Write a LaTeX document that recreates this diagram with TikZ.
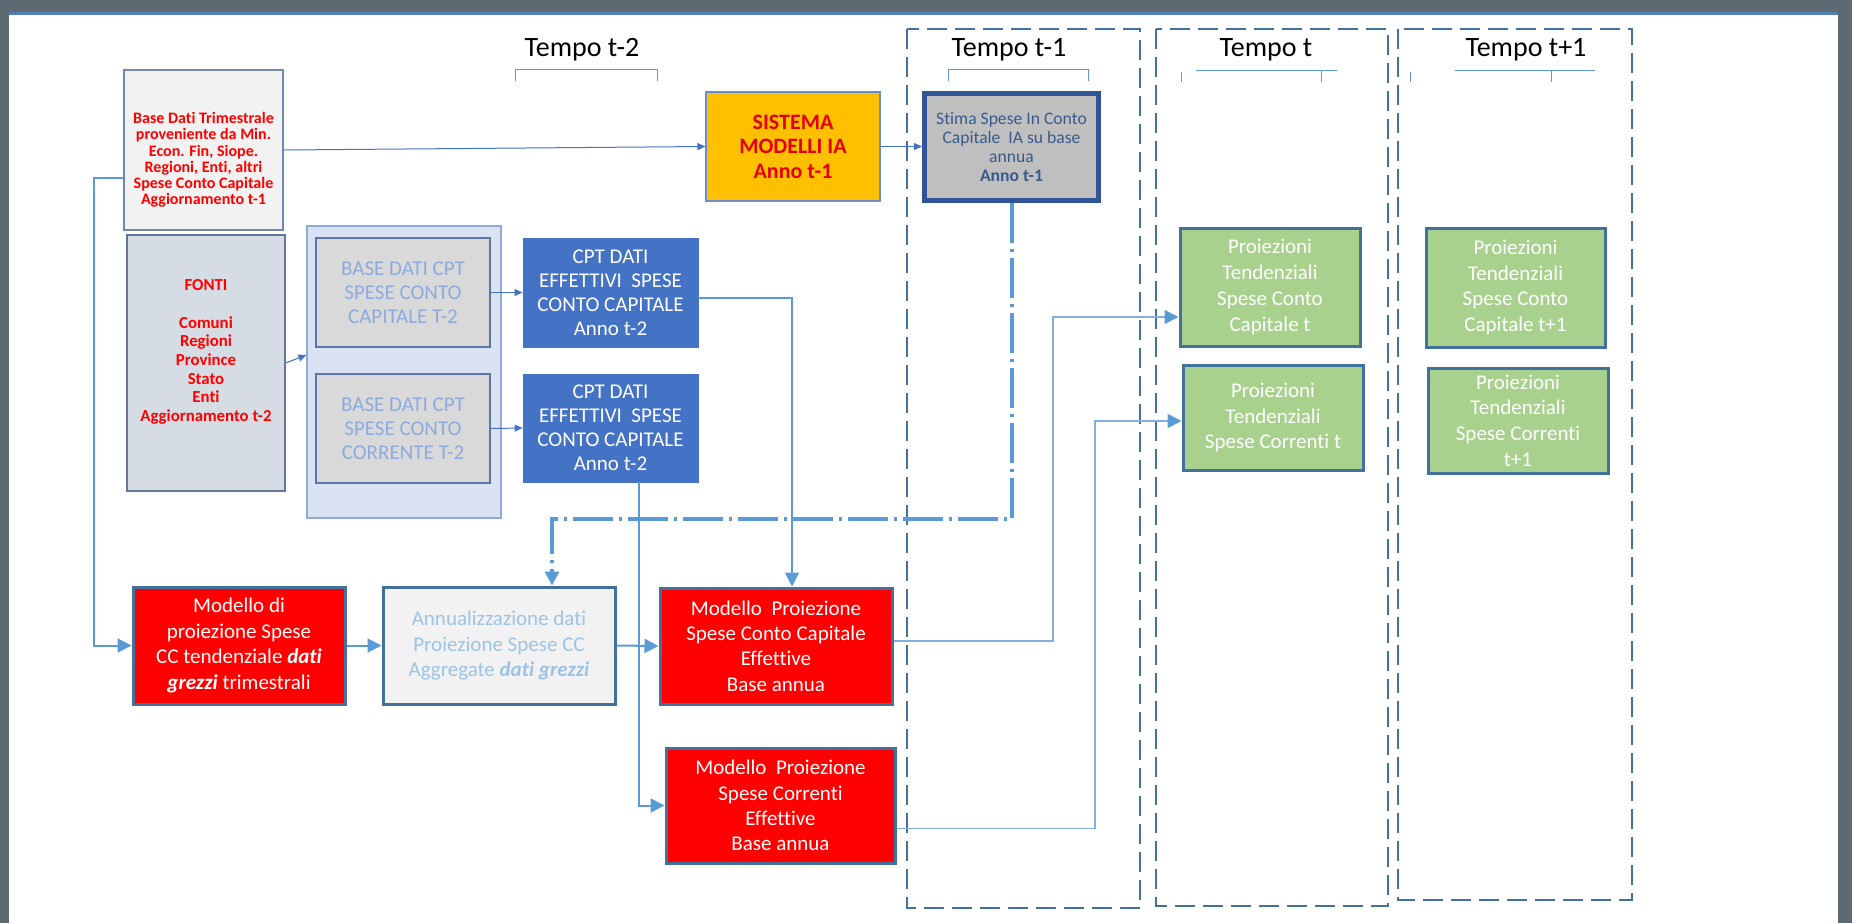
\documentclass[tikz,border=0pt]{standalone}
\usepackage{fontspec}
\setmainfont{Carlito}[Ligatures={NoCommon}]
\usetikzlibrary{arrows.meta,positioning}
\definecolor{framegrey}{HTML}{5E6A72}
\definecolor{frameblue}{HTML}{4F7FB5}
\definecolor{colblue}{HTML}{41719C}
\definecolor{arrowblue}{HTML}{5B9BD5}
\definecolor{lineblue}{HTML}{4472C4}
\definecolor{paleblue}{HTML}{8FAADC}
\definecolor{lightblue}{HTML}{9DC3E6}
\definecolor{feedblue}{HTML}{7FB0DE}
\definecolor{greenfill}{HTML}{A9D18E}
\definecolor{cptblue}{HTML}{4472C4}
\definecolor{orangefill}{HTML}{FFC000}
\definecolor{stimaline}{HTML}{2F5597}
\definecolor{stimatext}{HTML}{3A5A8C}
\definecolor{fontifill}{HTML}{D6DCE4}
\definecolor{cptbasefill}{HTML}{DAE3F3}

\tikzset{
  trimbox/.style={draw=paleblue!80!black, fill=black!5, line width=0.6pt},
  redlabel/.style={text=red, align=center, inner sep=0pt},
  fontibox/.style={draw=paleblue!70!black, fill=fontifill, line width=0.6pt},
  cptbasebox/.style={draw=paleblue, fill=cptbasefill, line width=0.6pt},
  basebox/.style={draw=stimaline!80!white, fill=black!15, line width=0.6pt, text=paleblue, align=center, inner sep=0pt,
    font=\fontsize{10.5}{12}\selectfont},
  cptbox/.style={draw=cptblue, fill=cptblue, text=white, align=center, inner sep=0pt,
    font=\fontsize{10.5}{12}\selectfont},
  sisbox/.style={draw=lineblue!80!white, fill=orangefill, line width=0.6pt, text=red!90!black, align=center, inner sep=0pt,
    font=\fontsize{11}{12.3}\selectfont\bfseries},
  stimabox/.style={draw=stimaline, fill=black!25, line width=2.5pt, text=stimatext, align=center, inner sep=0pt,
    font=\fontsize{8.8}{9.45}\selectfont},
  redbox/.style={draw=colblue, fill=red, line width=1.5pt, text=white, align=center, inner sep=0pt,
    font=\fontsize{10.5}{12.7}\selectfont},
  annbox/.style={draw=colblue, fill=black!5, line width=1.5pt, text=lightblue, align=center, inner sep=0pt,
    font=\fontsize{10.5}{12.7}\selectfont},
  greenbox/.style={draw=colblue, fill=greenfill, line width=1.5pt, text=white, align=center, inner sep=0pt,
    font=\fontsize{10.5}{12.85}\selectfont},
  colframe/.style={draw=colblue, line width=1.4pt, dash pattern=on 10pt off 4pt},
  tempo/.style={font=\fontsize{14}{16}\selectfont, inner sep=0pt},
  bracket/.style={draw=arrowblue, line width=0.5pt},
  thinarrow/.style={draw=lineblue, line width=0.5pt, -{Triangle[length=4pt,width=3.5pt]}},
  bigarrow/.style={draw=arrowblue, line width=1pt, -{Triangle[length=7pt,width=7pt]}},
  feedline/.style={draw=feedblue, line width=0.8pt, -{Triangle[length=7pt,width=7pt,color=arrowblue]}},
  dashdot/.style={draw=arrowblue, line width=2pt, dash pattern=on 20pt off 3pt on 1.5pt off 3pt,
    -{Triangle[length=7pt,width=7pt]}},
}

\begin{document}
\begin{tikzpicture}[x=0.5pt,y=0.5pt,yscale=-1,xscale=1]
\useasboundingbox (0,0) rectangle (1852,923);

%Frame
\fill[framegrey] (0,0) rectangle (1852,12);
\fill[frameblue] (0,12) rectangle (1852,15);
\fill[framegrey] (0,0) rectangle (9,923);
\fill[framegrey] (1838,0) rectangle (1852,923);

%Time columns
\draw[colframe] (907,29) rectangle (1140,908);
\draw[colframe] (1156,29) rectangle (1388,906);
\draw[colframe] (1398,29) rectangle (1632,900);

% Text Node
\node[tempo] (tmtwo) at (582,50) {Tempo t-2};
\node[tempo] (tmone) at (1009,50) {Tempo t-1};
\node[tempo] (tzero) at (1266,50) {Tempo t};
\node[tempo] (tpone) at (1526,50) {Tempo t+1};

%Brackets
\draw[bracket] (515,81) -- (515,69) -- (657,69) -- (657,81);
\draw[bracket] (948,81) -- (948,69) -- (1088,69) -- (1088,81);
\draw[bracket] (1181,72) -- (1181,82); \draw[bracket] (1196,70) -- (1337,70); \draw[bracket] (1321,70) -- (1321,82);
\draw[bracket] (1410,72) -- (1410,82); \draw[bracket] (1455,70) -- (1595,70); \draw[bracket] (1551,70) -- (1551,82);

%Sources
\node[trimbox, minimum width=79.5pt, minimum height=80pt] (trim) at (203.5,150) {};
\node[redlabel, font=\fontsize{8}{8.1}\selectfont\bfseries] (trimtxt) at (203.5,160)
  {Base Dati Trimestrale\\proveniente da Min.\\Econ. Fin, Siope.\\Regioni, Enti, altri\\Spese Conto Capitale\\Aggiornamento t-1};
\node[fontibox, minimum width=79pt, minimum height=128pt] (fonti) at (206,363) {};
\node[redlabel, font=\fontsize{8.4}{9.35}\selectfont\bfseries] (fontitxt) at (206,352)
  {FONTI\\[9.35pt]Comuni\\Regioni\\Province\\Stato\\Enti\\Aggiornamento t-2};

\node[cptbasebox, minimum width=97pt, minimum height=146pt] (cptbase) at (404,372) {};
\node[basebox, minimum width=87pt, minimum height=54.5pt] (basecap) at (403,292.5) {BASE DATI CPT\\SPESE CONTO\\CAPITALE T-2};
\node[basebox, minimum width=87pt, minimum height=54.5pt] (basecor) at (403,428.5) {BASE DATI CPT\\SPESE CONTO\\CORRENTE T-2};

\node[cptbox, minimum width=87.5pt, minimum height=54.5pt] (cptcap) at (610.5,292.5) {CPT DATI\\EFFETTIVI\ \ SPESE\\CONTO CAPITALE\\Anno t-2};
\node[cptbox, minimum width=87.5pt, minimum height=54pt] (cptcor) at (610.5,428) {CPT DATI\\EFFETTIVI\ \ SPESE\\CONTO CAPITALE\\Anno t-2};

\node[sisbox, minimum width=87pt, minimum height=54.5pt] (sistema) at (793,146.5) {SISTEMA\\MODELLI IA\\Anno t-1};
\node[stimabox, minimum width=87pt, minimum height=53.5pt] (stima) at (1011.5,147)
  {Stima Spese In Conto\\Capitale\ \ IA su base\\annua\\\textbf{Anno t-1}};

%Models
\node[redbox, minimum width=106pt, minimum height=58.5pt] (modgrezzi) at (239,645.5)
  {Modello di\\proiezione Spese\\CC tendenziale \textbf{\textit{dati}}\\\textbf{\textit{grezzi}} trimestrali};
\node[annbox, minimum width=116pt, minimum height=58.5pt] (annual) at (499,645.5)
  {Annualizzazione dati\\Proiezione Spese CC\\Aggregate \textbf{\textit{dati grezzi}}};
\node[redbox, minimum width=116pt, minimum height=58pt] (modcap) at (776,646)
  {Modello\ \ Proiezione\\Spese Conto Capitale\\Effettive\\Base annua};
\node[redbox, minimum width=114.5pt, minimum height=57.5pt] (modcor) at (780.5,805.5)
  {Modello\ \ Proiezione\\Spese Correnti\\Effettive\\Base annua};

%Projections
\node[greenbox, minimum width=90pt, minimum height=59pt] (proicap) at (1270,287)
  {Proiezioni\\Tendenziali\\Spese Conto\\Capitale t};
\node[greenbox, minimum width=90pt, minimum height=52.5pt] (proicor) at (1273,417.5)
  {Proiezioni\\Tendenziali\\Spese Correnti t};
\node[greenbox, minimum width=89.5pt, minimum height=59.5pt] (proicapn) at (1515.5,287.5)
  {Proiezioni\\Tendenziali\\Spese Conto\\Capitale t+1};
\node[greenbox, minimum width=90pt, minimum height=52.5pt] (proicorn) at (1518,420.5)
  {Proiezioni\\Tendenziali\\Spese Correnti\\t+1};

%Bends
\coordinate (trimbend) at (94,178);
\coordinate (capbend) at (792,298);
\coordinate (corbend) at (639,805.5);
\coordinate (ddbend) at (552,519);
\coordinate (capin) at (1053,317);
\coordinate (corin) at (1095,421);

%Straight Lines
\draw[thinarrow] (trim.east) -- (sistema.west);
\draw[thinarrow] (sistema.east) -- (sistema.east -| stima.west);
\draw[thinarrow] (fonti.east) -- ([yshift=-8.5pt]cptbase.west);
\draw[thinarrow] (basecap.east) -- (cptcap.west);
\draw[thinarrow] (basecor.east) -- (cptcor.west);

\draw[bigarrow] ([yshift=14pt]trim.west) -- (trimbend) -- (trimbend |- modgrezzi.west) -- (modgrezzi.west);
\draw[bigarrow] (modgrezzi.east) -- (annual.west);
\draw[bigarrow] (annual.east) -- (modcap.west);
\draw[bigarrow] ([yshift=2.75pt]cptcap.east) -- (capbend) -- (capbend |- modcap.north);
\draw[bigarrow] (cptcor.south -| corbend) -- (corbend) -- (modcor.west);

\draw[dashdot] (stima.south) |- (ddbend) -- (ddbend |- annual.north);

\draw[feedline] ([yshift=-2.5pt]modcap.east) -| (capin) -- (capin -| proicap.west);
\draw[feedline] ([yshift=11.5pt]modcor.east) -| (corin) -- (corin -| proicor.west);

\end{tikzpicture}
\end{document}
